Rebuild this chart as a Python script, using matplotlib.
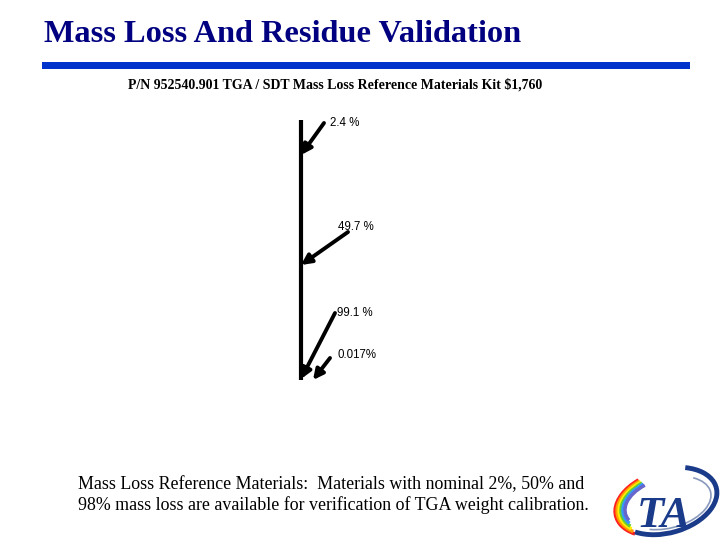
import matplotlib.pyplot as plt
from matplotlib.patches import Arc, Rectangle

# slide text
title = "Mass Loss And Residue Validation"
subtitle = "P/N 952540.901 TGA / SDT Mass Loss Reference Materials Kit $1,760"
caption = ["Mass Loss Reference Materials:  Materials with nominal 2%, 50% and",
           "98% mass loss are available for verification of TGA weight calibration."]

# arrow labels and their pixel anchors (tail, head)
labels = ["2.4 %", "49.7 %", "99.1 %", "0.017%"]
tail_x = [324, 348, 335, 330]
tail_y = [123, 232, 313, 358]
head_x = [301, 301, 301, 313]
head_y = [155, 265, 379, 380]
label_x = [330, 338, 337, 337]
label_y = [123, 227, 313, 355]

navy = "#000080"

fig = plt.figure(figsize=(7.2, 5.4), dpi=100)
ax = fig.add_axes([0, 0, 1, 1])
ax.set_xlim(0, 720)
ax.set_ylim(540, 0)
ax.axis("off")

ax.text(44, 35, title, fontsize=23.3, fontweight="bold", color=navy,
        family="Liberation Serif", va="center", ha="left")
ax.add_patch(Rectangle((42, 62), 648, 7, color="#0033cc", lw=0))
ax.text(128, 85, subtitle, fontsize=10, fontweight="bold", color="black",
        family="Liberation Serif", va="center", ha="left")

# vertical reference line
ax.plot([300.5, 300.5], [120, 380], color="black", lw=3, solid_capstyle="butt")

for lab, tx, ty, hx, hy, lx, ly in zip(labels, tail_x, tail_y, head_x, head_y,
                                       label_x, label_y):
    ax.annotate("", xy=(hx, hy), xytext=(tx, ty),
                arrowprops=dict(arrowstyle="-|>,head_length=0.6,head_width=0.3",
                                color="black", lw=2.8, shrinkA=0, shrinkB=0))
    ax.text(lx, ly, lab, fontsize=8.3, color="black",
            family="Liberation Sans", va="center", ha="left")

ax.text(78, 485, caption[0], fontsize=12.9, family="Liberation Serif",
        va="center", ha="left")
ax.text(78, 505, caption[1], fontsize=12.9, family="Liberation Serif",
        va="center", ha="left")

# TA logo
rainbow = ["#ff2020", "#ff9900", "#ffee00", "#66cc33", "#3399ff", "#6666cc"]
for i, c in enumerate(rainbow):
    ax.add_patch(Arc((666, 503), 104 - i * 4, 64 - i * 3, angle=-15,
                     theta1=150 + i * 4, theta2=235, color=c, lw=2.5))
ax.add_patch(Arc((666, 501), 104, 64, angle=-15, theta1=-45, theta2=150,
                 color="#1a3a8a", lw=3.5))
ax.add_patch(Arc((668, 503), 88, 50, angle=-15, theta1=-30, theta2=140,
                 color="#8899bb", lw=1.2))
ax.text(664, 516, "TA", fontsize=32, fontweight="bold", fontstyle="italic",
        family="Liberation Serif", color="#1a3a8a", ha="center", va="center")

fig.savefig("out.png", dpi=100)
